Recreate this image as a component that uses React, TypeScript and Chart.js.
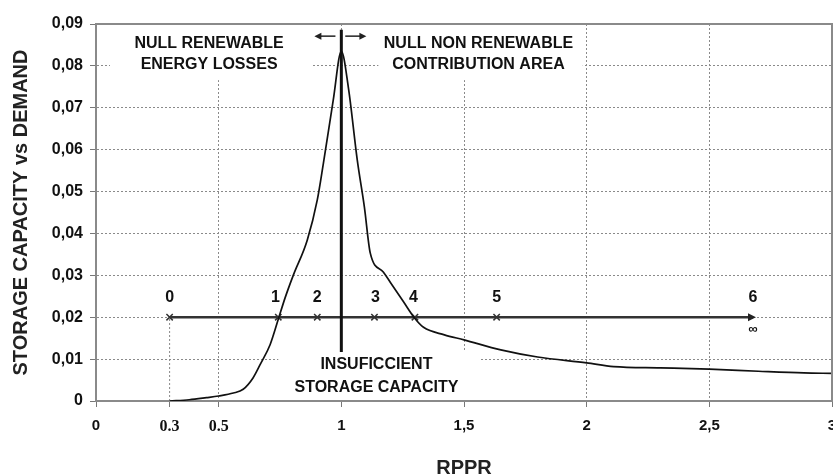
import React, { useEffect, useRef } from 'react';
import { Chart, registerables } from 'chart.js';

Chart.register(...registerables);

// ---- data ----
const curveX = [0.3, 0.38, 0.45, 0.5, 0.56, 0.6, 0.64, 0.67, 0.71, 0.743, 0.77, 0.804, 0.861, 0.902, 0.927, 0.967, 1.0, 1.029, 1.065, 1.094, 1.118, 1.171, 1.2, 1.25, 1.3, 1.335, 1.42, 1.5, 1.65, 1.8, 2.0, 2.11, 2.3, 2.5, 2.7, 2.885, 3.0];
const curveY = [0, 0.0003, 0.0008, 0.0012, 0.0019, 0.0028, 0.0055, 0.0088, 0.0135, 0.0195, 0.0245, 0.03, 0.0384, 0.048, 0.0568, 0.0718, 0.0835, 0.0747, 0.0575, 0.0463, 0.0353, 0.0308, 0.0283, 0.024, 0.0197, 0.0176, 0.0158, 0.0146, 0.0122, 0.0105, 0.0091, 0.0082, 0.0079, 0.0076, 0.0071, 0.0067, 0.0066];

const stepLevel = 0.02;
const stepStart = 0.3;
const stepEnd = 2.678;
const stepMarkX = [0.3, 0.743, 0.902, 1.135, 1.3, 1.633];
const stepLabels = ['0', '1', '2', '3', '4', '5', '6'];
const stepLabelX = [0.3, 0.731, 0.902, 1.139, 1.294, 1.633, 2.678];
const stepLabelY = 0.0246;
const infinityLabel = '∞';
const infinityY = 0.0172;

const dividerX = 1;
const dividerY = [0.0117, 0.0886];

const arrowY = 0.0871;
const leftArrowX = [0.976, 0.89];
const rightArrowX = [1.016, 1.102];

const xTickValues = [0, 0.3, 0.5, 1, 1.5, 2, 2.5, 3];
const xTickLabels = ['0', '0.3', '0.5', '1', '1,5', '2', '2,5', '3'];
const yTickValues = [0, 0.01, 0.02, 0.03, 0.04, 0.05, 0.06, 0.07, 0.08, 0.09];
const yTickLabels = ['0', '0,01', '0,02', '0,03', '0,04', '0,05', '0,06', '0,07', '0,08', '0,09'];

const noteTexts = ['NULL RENEWABLE', 'ENERGY LOSSES', 'NULL NON RENEWABLE', 'CONTRIBUTION AREA', 'INSUFICCIENT', 'STORAGE CAPACITY'];
const noteX = [0.461, 0.461, 1.559, 1.559, 1.143, 1.143];
const noteY = [0.0854, 0.0804, 0.0854, 0.0804, 0.0086, 0.0033];

// white areas behind the notes (data coordinates)
const boxX0 = [0.057, 1.151, 0.743];
const boxX1 = [0.878, 1.984, 1.563];
const boxY0 = [0.0766, 0.0766, 0.0004];
const boxY1 = [0.0899, 0.0899, 0.0118];

const FONT = "'Liberation Sans', Arial, Helvetica, sans-serif";
const SERIF = "'Liberation Serif', 'Times New Roman', serif";

function arrowHead(ctx: CanvasRenderingContext2D, tipX: number, y: number, dir: number, len: number, half: number) {
  ctx.beginPath();
  ctx.moveTo(tipX, y);
  ctx.lineTo(tipX - dir * len, y - half);
  ctx.lineTo(tipX - dir * len, y + half);
  ctx.closePath();
  ctx.fill();
}

const annotPlugin = {
  id: 'annot',
  beforeDraw(chart: any) {
    const ctx = chart.ctx;
    ctx.save();
    ctx.fillStyle = '#ffffff';
    ctx.fillRect(0, 0, chart.width, chart.height);
    ctx.restore();
  },
  beforeDatasetsDraw(chart: any) {
    const ctx: CanvasRenderingContext2D = chart.ctx;
    const xs = chart.scales.x;
    const ys = chart.scales.y;
    ctx.save();
    ctx.fillStyle = '#ffffff';
    for (let i = 0; i < boxX0.length; i++) {
      const a = xs.getPixelForValue(boxX0[i]);
      const b = xs.getPixelForValue(boxX1[i]);
      const t = ys.getPixelForValue(boxY1[i]);
      const bt = ys.getPixelForValue(boxY0[i]);
      ctx.fillRect(a, t, b - a, bt - t);
    }
    ctx.fillStyle = '#111';
    ctx.font = `bold 16px ${FONT}`;
    ctx.textAlign = 'center';
    ctx.textBaseline = 'middle';
    for (let i = 0; i < noteTexts.length; i++) {
      ctx.fillText(noteTexts[i], xs.getPixelForValue(noteX[i]), ys.getPixelForValue(noteY[i]));
    }
    ctx.restore();
  },
  afterDatasetsDraw(chart: any) {
    const ctx: CanvasRenderingContext2D = chart.ctx;
    const xs = chart.scales.x;
    const ys = chart.scales.y;
    const area = chart.chartArea;
    ctx.save();
    // frame top and right
    ctx.strokeStyle = '#8a8a8a';
    ctx.lineWidth = 2;
    ctx.beginPath();
    ctx.moveTo(area.left, area.top);
    ctx.lineTo(area.right, area.top);
    ctx.lineTo(area.right, area.bottom);
    ctx.stroke();

    // main arrowhead
    ctx.fillStyle = '#222';
    arrowHead(ctx, xs.getPixelForValue(stepEnd) + 3, ys.getPixelForValue(stepLevel), 1, 8, 4);

    // top arrows
    ctx.strokeStyle = '#222';
    ctx.lineWidth = 1.5;
    const ay = ys.getPixelForValue(arrowY);
    [leftArrowX, rightArrowX].forEach((pair) => {
      const p0 = xs.getPixelForValue(pair[0]);
      const p1 = xs.getPixelForValue(pair[1]);
      const dir = p1 > p0 ? 1 : -1;
      ctx.beginPath();
      ctx.moveTo(p0, ay);
      ctx.lineTo(p1 - dir * 4, ay);
      ctx.stroke();
      arrowHead(ctx, p1, ay, dir, 7, 3.5);
    });

    // step labels
    ctx.fillStyle = '#111';
    ctx.font = `bold 16px ${FONT}`;
    ctx.textAlign = 'center';
    ctx.textBaseline = 'middle';
    const ly = ys.getPixelForValue(stepLabelY);
    for (let i = 0; i < stepLabels.length; i++) {
      ctx.fillText(stepLabels[i], xs.getPixelForValue(stepLabelX[i]), ly);
    }
    ctx.font = `bold 13px ${FONT}`;
    ctx.fillText(infinityLabel, xs.getPixelForValue(stepEnd), ys.getPixelForValue(infinityY));
    ctx.restore();
  },
};

export default function App() {
  const ref = useRef<HTMLCanvasElement>(null);

  useEffect(() => {
    const canvas = ref.current;
    if (!canvas) return;
    const chart = new Chart(canvas, {
      type: 'line',
      data: {
        datasets: [
          {
            label: 'curve',
            data: curveX.map((x, i) => ({ x, y: curveY[i] })),
            borderColor: '#111',
            borderWidth: 1.7,
            pointRadius: 0,
            cubicInterpolationMode: 'monotone',
            fill: false,
          },
          {
            label: 'divider',
            data: dividerY.map((y) => ({ x: dividerX, y })),
            borderColor: '#111',
            borderWidth: 3,
            pointRadius: 0,
          },
          {
            label: 'marks',
            data: stepMarkX.map((x) => ({ x, y: stepLevel })),
            showLine: false,
            pointStyle: 'crossRot',
            pointRadius: 4.5,
            borderColor: '#333',
            pointBorderWidth: 1.5,
          },
          {
            label: 'steps',
            data: [stepStart, stepEnd].map((x) => ({ x, y: stepLevel })),
            borderColor: '#333',
            borderWidth: 2.5,
            pointRadius: 0,
          },
          {
            label: 'drop',
            data: [0, stepLevel].map((y) => ({ x: stepStart, y })),
            borderColor: '#888',
            borderWidth: 1,
            borderDash: [2, 2],
            pointRadius: 0,
          },
        ],
      } as any,
      options: {
        animation: false,
        responsive: false,
        devicePixelRatio: 1,
        events: [],
        layout: { autoPadding: false, padding: { top: 24, right: 1, left: 0, bottom: 0 } },
        plugins: { legend: { display: false }, tooltip: { enabled: false } },
        scales: {
          x: {
            type: 'linear',
            min: 0,
            max: 3,
            afterBuildTicks: (s: any) => {
              s.ticks = xTickValues.map((value) => ({ value }));
            },
            afterFit: (s: any) => {
              s.height = 75;
              s.paddingLeft = 0;
              s.paddingRight = 0;
            },
            ticks: {
              autoSkip: false,
              maxRotation: 0,
              padding: 10,
              color: '#111',
              font: (ctx: any) => {
                const v = ctx.tick ? ctx.tick.value : null;
                const serif = v === 0.3 || v === 0.5;
                return { family: serif ? SERIF : FONT, size: serif ? 16 : 15, weight: 'bold' };
              },
              callback: (v: any) => {
                const i = xTickValues.indexOf(Number(v));
                return i >= 0 ? xTickLabels[i] : '';
              },
            },
            grid: {
              color: (ctx: any) => {
                const v = ctx.tick ? ctx.tick.value : null;
                return v === 0.3 || v === 0 || v === 3 ? 'rgba(0,0,0,0)' : '#8a8a8a';
              },
              lineWidth: 1,
              tickLength: 6,
              tickColor: '#777',
            },
            border: { display: true, color: '#8a8a8a', width: 2, dash: [2, 2] },
            title: {
              display: true,
              text: 'RPPR',
              color: '#222',
              font: { family: FONT, size: 20, weight: 'bold' },
              padding: { top: 0, bottom: -4 },
            },
          },
          y: {
            type: 'linear',
            min: 0,
            max: 0.09,
            afterBuildTicks: (s: any) => {
              s.ticks = yTickValues.map((value) => ({ value }));
            },
            afterFit: (s: any) => {
              s.width = 96;
              s.paddingTop = 0;
              s.paddingBottom = 0;
            },
            ticks: {
              autoSkip: false,
              padding: 7,
              color: '#111',
              font: { family: FONT, size: 16, weight: 'bold' },
              callback: (v: any) => {
                const i = yTickValues.findIndex((t) => Math.abs(t - Number(v)) < 1e-9);
                return i >= 0 ? yTickLabels[i] : '';
              },
            },
            grid: {
              color: (ctx: any) => {
                const v = ctx.tick ? ctx.tick.value : null;
                return v === 0 || (v !== null && Math.abs(v - 0.09) < 1e-9) ? 'rgba(0,0,0,0)' : '#8a8a8a';
              },
              lineWidth: 1,
              tickLength: 6,
              tickColor: '#777',
            },
            border: { display: true, color: '#8a8a8a', width: 2, dash: [2, 2] },
            title: {
              display: true,
              text: 'STORAGE CAPACITY vs DEMAND',
              color: '#222',
              font: { family: FONT, size: 20, weight: 'bold' },
              padding: { top: 9, bottom: 0 },
            },
          },
        },
      } as any,
      plugins: [annotPlugin],
    });
    return () => chart.destroy();
  }, []);

  return (
    <div style={{ position: 'absolute', left: 0, top: 0, width: 833, height: 476, background: '#fff' }}>
      <canvas ref={ref} width={833} height={476} style={{ display: 'block', width: 833, height: 476 }} />
    </div>
  );
}
